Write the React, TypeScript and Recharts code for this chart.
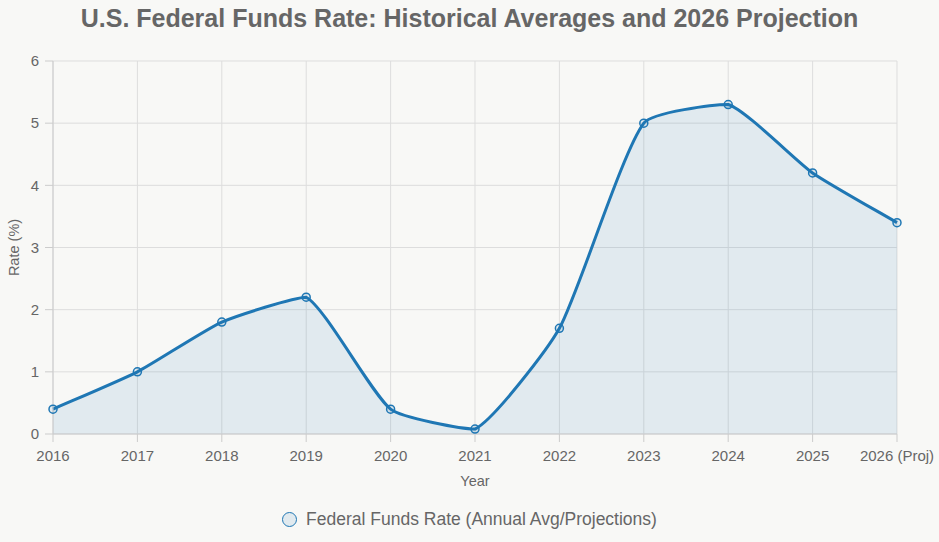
import { Area, CartesianGrid, ComposedChart, XAxis, YAxis } from "recharts";

const years = ["2016", "2017", "2018", "2019", "2020", "2021", "2022", "2023", "2024", "2025", "2026 (Proj)"];
const rates = [0.4, 1.0, 1.8, 2.2, 0.4, 0.08, 1.7, 5.0, 5.3, 4.2, 3.4];
const yTicks = [0, 1, 2, 3, 4, 5, 6];

const data = years.map((year, i) => ({ year, rate: rates[i] }));

const blue = "#1f77b4";
const gray = "#666";
const font = "'Liberation Sans', Arial, Helvetica, sans-serif";

const TENSION = 0.18;

const between = (v: number, p: number, q: number) => Math.max(Math.min(p, q), Math.min(Math.max(p, q), v));

// tension spline whose control points never pass the neighbouring points (no overshoot)
class SplineCurve {
  _ctx: any;
  _line: number = NaN;
  _pts: number[][] = [];
  constructor(ctx: any) {
    this._ctx = ctx;
  }
  areaStart() {
    this._line = 0;
  }
  areaEnd() {
    this._line = NaN;
  }
  lineStart() {
    this._pts = [];
  }
  point(x: number, y: number) {
    this._pts.push([+x, +y]);
  }
  lineEnd() {
    const p = this._pts;
    const n = p.length;
    if (n) {
      if (this._line) this._ctx.lineTo(p[0][0], p[0][1]);
      else this._ctx.moveTo(p[0][0], p[0][1]);
      const prevCp: number[][] = [];
      const nextCp: number[][] = [];
      for (let i = 0; i < n; i++) {
        const a = p[Math.max(0, i - 1)];
        const b = p[i];
        const c = p[Math.min(n - 1, i + 1)];
        const d01 = Math.hypot(b[0] - a[0], b[1] - a[1]);
        const d12 = Math.hypot(c[0] - b[0], c[1] - b[1]);
        let s01 = d01 / (d01 + d12);
        let s12 = d12 / (d01 + d12);
        if (isNaN(s01)) s01 = 0;
        if (isNaN(s12)) s12 = 0;
        const fa = TENSION * s01;
        const fb = TENSION * s12;
        prevCp.push([
          between(b[0] - fa * (c[0] - a[0]), a[0], b[0]),
          between(b[1] - fa * (c[1] - a[1]), a[1], b[1]),
        ]);
        nextCp.push([
          between(b[0] + fb * (c[0] - a[0]), b[0], c[0]),
          between(b[1] + fb * (c[1] - a[1]), b[1], c[1]),
        ]);
      }
      for (let i = 0; i < n - 1; i++) {
        this._ctx.bezierCurveTo(
          nextCp[i][0], nextCp[i][1],
          prevCp[i + 1][0], prevCp[i + 1][1],
          p[i + 1][0], p[i + 1][1]
        );
      }
    }
    if (this._line || (this._line !== 0 && n === 1)) this._ctx.closePath();
    this._line = 1 - this._line;
  }
}

const splineCurve = (ctx: any) => new SplineCurve(ctx);

export default function App() {
  return (
    <div
      style={{
        position: "absolute",
        left: 0,
        top: 0,
        width: 939,
        height: 542,
        background: "#f8f8f6",
        fontFamily: font,
      }}
    >
      <div
        style={{
          position: "absolute",
          left: 0,
          top: 4,
          width: 939,
          textAlign: "center",
          fontSize: 25,
          fontWeight: "bold",
          color: gray,
        }}
      >
        U.S. Federal Funds Rate: Historical Averages and 2026 Projection
      </div>
      <ComposedChart
        width={939}
        height={542}
        data={data}
        margin={{ top: 61, right: 42, bottom: 50, left: 0 }}
        style={{ fontFamily: font }}
      >
        <CartesianGrid stroke="#ddd" strokeWidth={1} />
        <XAxis
          dataKey="year"
          height={58}
          tickSize={8}
          tickMargin={8}
          tick={{ fill: gray, fontSize: 15 }}
          stroke="#ccc"
          interval={0}
          label={{ value: "Year", position: "insideBottom", offset: 6, fill: gray, fontSize: 14.5 }}
        />
        <YAxis
          width={53}
          domain={[0, 6]}
          ticks={yTicks}
          tickSize={8}
          tickMargin={6}
          tick={{ fill: gray, fontSize: 15 }}
          stroke="#ccc"
          label={{ value: "Rate (%)", angle: -90, position: "insideLeft", offset: 14, fill: gray, fontSize: 14.5, style: { textAnchor: "middle" } }}
        />
        <Area
          type={splineCurve as any}
          dataKey="rate"
          stroke={blue}
          strokeWidth={3}
          fill={blue}
          fillOpacity={0.1}
          dot={{ r: 4, stroke: blue, strokeWidth: 1.5, fill: "rgba(31,119,180,0.1)", fillOpacity: 1 }}
          activeDot={false}
          isAnimationActive={false}
        />
      </ComposedChart>
      <div
        style={{
          position: "absolute",
          left: 0,
          top: 509,
          width: 939,
          display: "flex",
          justifyContent: "center",
          alignItems: "center",
          fontSize: 17.5,
          color: gray,
        }}
      >
        <span
          style={{
            display: "inline-block",
            width: 13,
            height: 13,
            borderRadius: "50%",
            border: `1.5px solid ${blue}`,
            background: "rgba(31,119,180,0.1)",
            marginRight: 9,
          }}
        />
        Federal Funds Rate (Annual Avg/Projections)
      </div>
    </div>
  );
}
